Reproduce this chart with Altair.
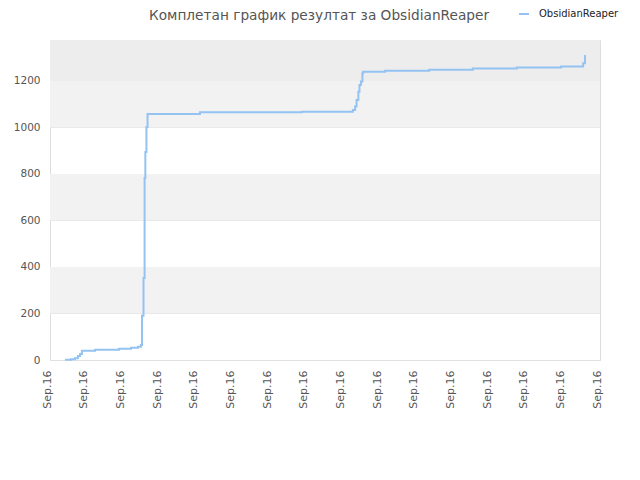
import altair as alt
import pandas as pd
import json

series_name = "ObsidianReaper"
title_text = "Комплетан график резултат за ObsidianReaper"

# x positions in tick-index units (0 = first "Sep.16" tick, 15 = last)
xs = [0.41, 0.57, 0.68, 0.76, 0.82, 0.87, 1.23, 1.88, 2.21, 2.40, 2.48,
      2.51, 2.55, 2.58, 2.60, 2.63, 2.66, 4.09, 6.87, 8.26, 8.32, 8.36,
      8.41, 8.44, 8.48, 8.52, 8.54, 9.14, 10.34, 11.53, 12.73, 13.94,
      14.54, 14.59]
values = [1, 3, 7, 17, 26, 40, 44, 48, 53, 57, 64,
          190, 353, 783, 894, 1002, 1058, 1065, 1068, 1075, 1090, 1118,
          1154, 1183, 1198, 1233, 1240, 1244, 1248, 1253, 1258, 1262,
          1276, 1312]

tick_labels = ["Sep.16"] * 16
y_ticks = [0, 200, 400, 600, 800, 1000, 1200]

band_lo = [200, 600, 1000, 1200]
band_hi = [400, 800, 1200, 1376]
band_col = ["#f2f2f2", "#f2f2f2", "#f2f2f2", "#ededed"]

df = pd.DataFrame({"x": xs, "y": values, "series": series_name})
bands = pd.DataFrame({"lo": band_lo, "hi": band_hi, "c": band_col,
                      "x0": 0, "x1": 15})

FONT = "DejaVu Sans"
xscale = alt.Scale(domain=[0, 15], nice=False, zero=False)
yscale = alt.Scale(domain=[0, 1376], nice=False)

label_expr = json.dumps(tick_labels) + "[datum.value]"

x_axis = alt.Axis(title=None, values=list(range(16)), labelExpr=label_expr,
                  labelAngle=-90, labelAlign="right", labelBaseline="alphabetic",
                  labelOverlap=False, labelBound=False, labelFlush=False,
                  grid=False, ticks=False, domain=False, labelPadding=10,
                  labelFontSize=11, labelColor="#555", labelFont=FONT)
y_axis = alt.Axis(title=None, values=y_ticks, format="d", grid=True,
                  gridColor="#e0e0e0", ticks=False, domain=False, labelPadding=10,
                  labelOverlap=False,
                  labelFontSize=10.5, labelColor="#555", labelFont=FONT)

band_layer = alt.Chart(bands).mark_rect().encode(
    x=alt.X("x0:Q", scale=xscale, axis=x_axis),
    x2="x1:Q",
    y=alt.Y("lo:Q", scale=yscale, axis=y_axis),
    y2="hi:Q",
    color=alt.Color("c:N", scale=None),
)

line = alt.Chart(df).mark_line(interpolate="step-after", strokeWidth=2).encode(
    x=alt.X("x:Q", scale=xscale, axis=x_axis),
    y=alt.Y("y:Q", scale=yscale, axis=y_axis),
    color=alt.Color("series:N",
                    scale=alt.Scale(domain=[series_name], range=["#94c3f2"]),
                    legend=alt.Legend(title=None, orient="none", legendX=468, legendY=-32,
                                      symbolType="stroke", symbolStrokeWidth=2,
                                      symbolSize=100, labelOffset=9,
                                      labelFontSize=10, labelFont=FONT,
                                      labelColor="#222")),
)

chart = alt.layer(band_layer, line).properties(
    width=550,
    height=320,
    padding={"left": 42, "top": 32, "right": 30, "bottom": 100},
    autosize=alt.AutoSizeParams(type="none"),
    title=alt.TitleParams(title_text, anchor="middle", fontSize=13.7, font=FONT,
                          fontWeight="normal", color="#555", offset=20, dy=35, dx=-6),
).configure_view(stroke="#dddddd", strokeWidth=1)

chart.save("out.html", embed_options={"renderer": "svg", "actions": False})
